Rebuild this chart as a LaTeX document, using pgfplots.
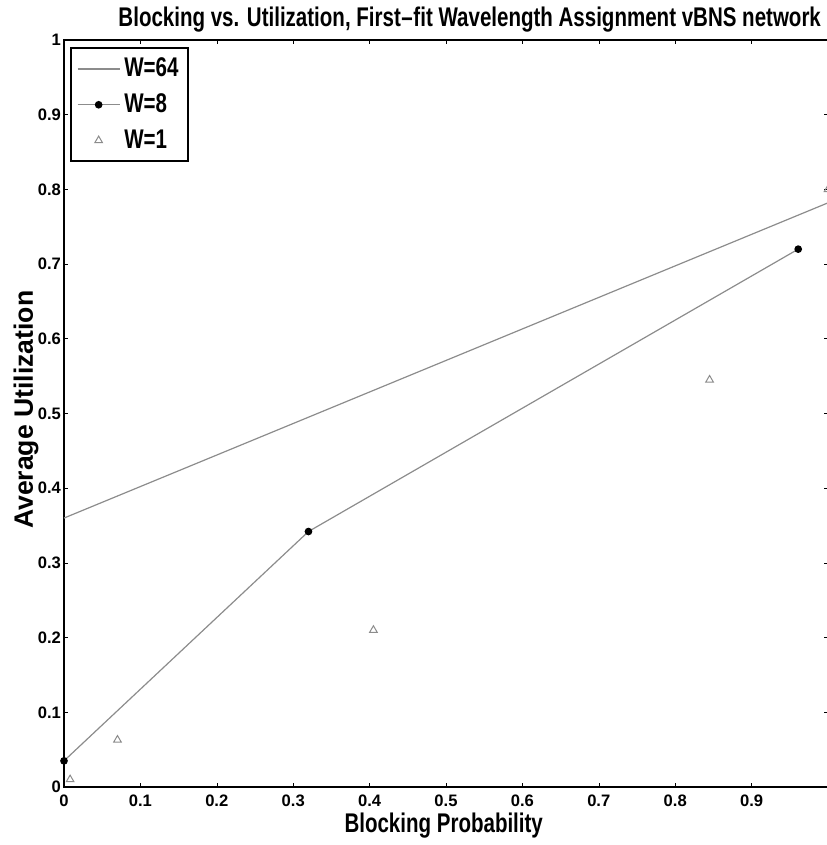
\documentclass[border=0pt]{standalone}
\usepackage{fontspec}
\setmainfont{Liberation Sans}
\newfontfamily\condfont{Liberation Sans}[FakeStretch=0.76]
\usepackage{pgfplots}
\pgfplotsset{compat=1.18}
\usetikzlibrary{calc}
\definecolor{lgray}{gray}{0.55}
\pgfplotsset{centermark legend/.style={legend image code/.code={\draw[##1] plot coordinates {(0.37cm,0cm)};}}}
\begin{document}
\begin{tikzpicture}
\begin{axis}[
  scale only axis, width=382pt, height=373.5pt,
  xmin=0, xmax=1, ymin=0, ymax=1,
  xtick={0,0.1,0.2,0.3,0.4,0.5,0.6,0.7,0.8,0.9},
  ytick={0,0.1,0.2,0.3,0.4,0.5,0.6,0.7,0.8,0.9,1},
  tick align=inside, major tick length=2pt,
  axis line style={line width=1pt},
  every tick/.style={black, line width=0.3pt},
  /pgf/number format/assume math mode=true,
  tick label style={font=\bfseries\fontsize{8.3}{9}\selectfont},
  xticklabel style={yshift=-0.5pt},
  yticklabel style={xshift=2pt},
  every axis title shift=0pt,
  title={\bfseries Blocking vs. Utilization, First\kern0.3pt–\kern0.3pt fit Wavelength Assignment vBNS network},
  title style={font=\condfont\fontsize{13.5}{15}\selectfont, at={(axis description cs:0.531,1.0)}, anchor=base, yshift=6.5pt},
  xlabel={\bfseries Blocking Probability},
  ylabel={\bfseries Average Utilization},
  xlabel style={font=\condfont\fontsize{13.5}{15}\selectfont, at={(axis description cs:0.497,0)}, anchor=base, yshift=-23pt},
  ylabel style={font=\fontsize{13.3}{15}\selectfont, at={(axis description cs:-0.0406,0.505)}, anchor=base},
  legend style={at={(axis description cs:0,1)}, anchor=north west, xshift=3pt, yshift=-3.5pt,
    draw=black, line width=1pt, font=\condfont\bfseries\fontsize{13.5}{15}\selectfont, row sep=3pt,
    inner xsep=3pt, inner ysep=3pt, cells={anchor=west}},
  legend image code/.code={\draw[mark repeat=2,mark phase=2,#1] plot coordinates {(0cm,0cm) (0.37cm,0cm) (0.74cm,0cm)};},
  clip=true,
]
\addplot[lgray, line width=0.6pt] coordinates {(0,0.36) (1,0.782)};
\addlegendentry{W=64}
\addplot[lgray, line width=0.6pt, mark=*, mark size=1.6pt, mark options={fill=black, draw=black}] coordinates {(0,0.035) (0.32,0.342) (0.961,0.72)};
\addlegendentry{W=8}
\addplot[only marks, mark=triangle, mark size=2.2pt, mark options={draw=lgray, line width=0.5pt}, centermark legend] coordinates {(0.008,0.01) (0.07,0.063) (0.405,0.21) (0.845,0.545) (1.0,0.80)};
\addlegendentry{W=1}
\end{axis}
\pgfresetboundingbox
\path[use as bounding box] ($(current axis.south west)+(-32pt,-29pt)$) rectangle ($(current axis.north east)+(-1pt,20pt)$);
\end{tikzpicture}
\end{document}
